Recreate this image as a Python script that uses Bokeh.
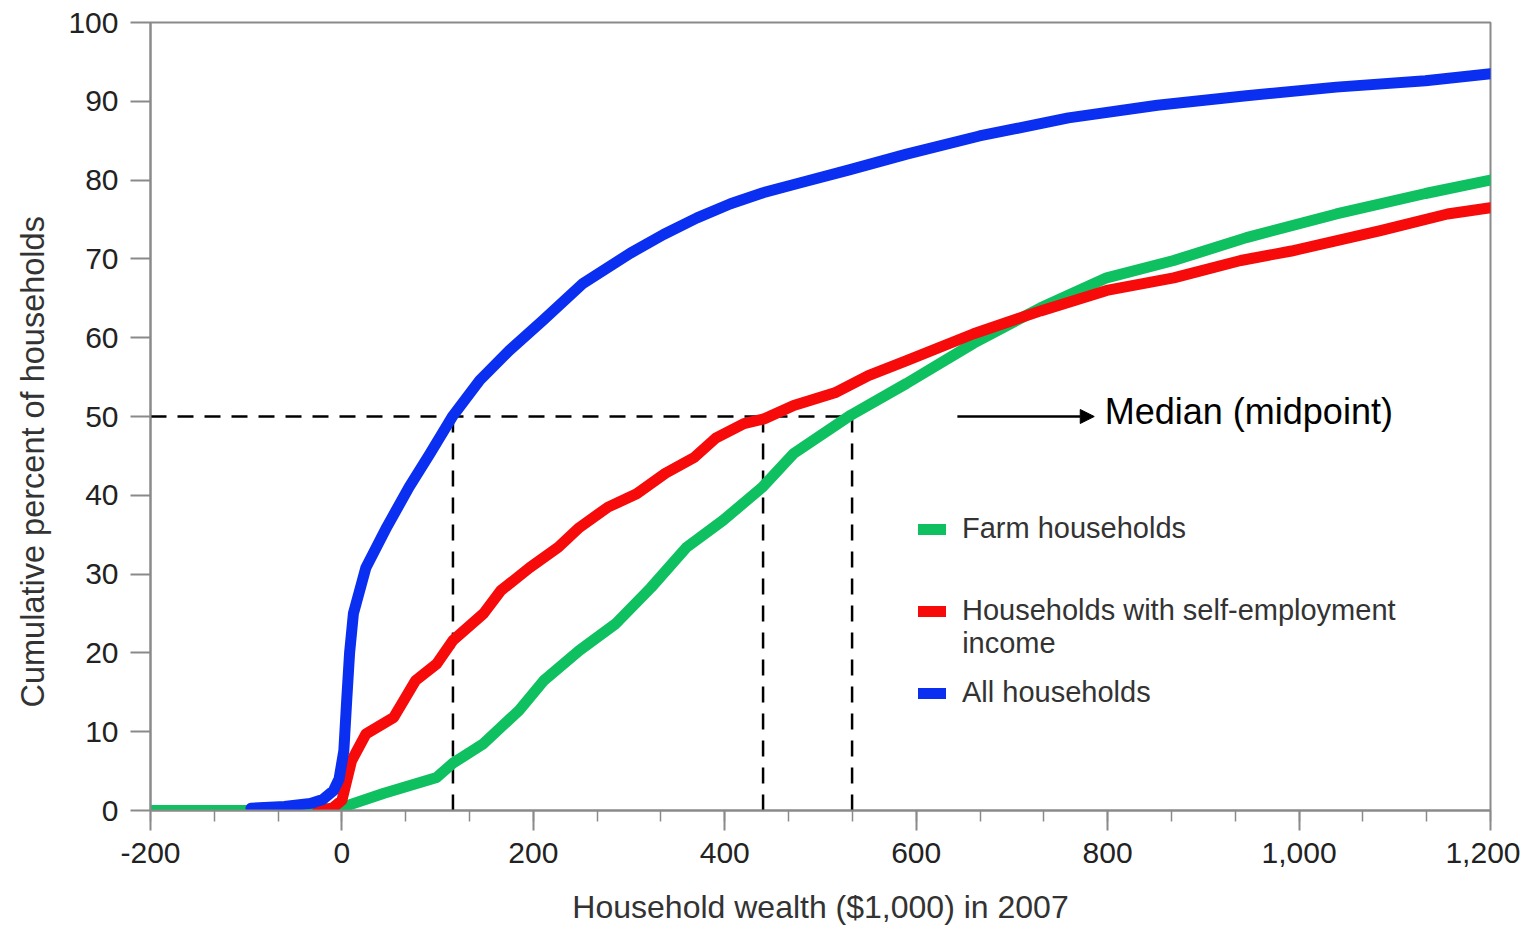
from bokeh.plotting import figure
from bokeh.models import (Range1d, SingleIntervalTicker, NumeralTickFormatter, Legend, LegendItem,
                          Label, Arrow, NormalHead, Title)
from bokeh.embed import file_html
from bokeh.resources import INLINE

# ---- data ----
blue_x = [-95, -60, -33, -20, -9, -3, 2, 5, 8, 12, 25, 47, 70, 92, 116, 144, 175, 210, 252, 301,
          336, 371, 406, 440, 480, 530, 590, 666, 759, 852, 945, 1039, 1132, 1200]
blue_y = [0.3, 0.5, 0.9, 1.4, 2.5, 4, 7.6, 14, 20, 25, 30.8, 36, 41, 45.3, 50.1, 54.6, 58.4, 62.2, 66.9, 70.7,
          73.1, 75.2, 77.0, 78.4, 79.7, 81.3, 83.3, 85.6, 87.9, 89.5, 90.7, 91.8, 92.6, 93.5]

red_x = [-25, -10, 0, 10, 25, 54, 77, 99, 116, 148, 166, 196, 226, 248, 278, 308, 338, 368, 391, 420,
         441, 472, 515, 550, 590, 660, 730, 799, 869, 939, 992, 1085, 1155, 1200]
red_y = [0, 0.3, 1.3, 6.3, 9.7, 11.8, 16.5, 18.6, 21.6, 25, 27.9, 30.8, 33.4, 35.9, 38.5, 40.2, 42.8, 44.8, 47.3, 49.1,
         49.7, 51.4, 53, 55.2, 57.1, 60.5, 63.4, 66, 67.6, 69.8, 71, 73.6, 75.7, 76.5]

green_x = [-200, -100, -30, 0, 44, 99, 116, 148, 185, 211, 248, 286, 323, 360, 398, 439, 472, 532,
           590, 660, 730, 799, 869, 945, 1039, 1132, 1200]
green_y = [0, 0, 0, 0.4, 2.2, 4.2, 6, 8.5, 12.7, 16.5, 20.3, 23.7, 28.3, 33.4, 36.8, 41, 45.3, 50.2,
           54.2, 59.3, 63.8, 67.6, 69.8, 72.7, 75.7, 78.3, 80]

median_level = 50
medians = [116, 440, 533]          # all, self-employment, farm

series_labels = ["Farm households", "Households with self-employment", "All households"]
label_second_line = "income"
x_ticks_interval = 200
y_ticks_interval = 10

# ---- styling ----
FONT = "Liberation Sans"
AXIS_GREY = "#8a8a8a"
GREEN = "#0fc061"
RED = "#f70a0a"
BLUE = "#0b2ff0"

p = figure(width=1520, height=928, output_backend="svg", toolbar_location=None,
           x_range=Range1d(-200, 1200), y_range=Range1d(0, 100),
           min_border_left=150, min_border_right=30, min_border_top=22, min_border_bottom=118)
p.background_fill_color = "white"
p.border_fill_color = "white"
p.outline_line_color = AXIS_GREY
p.outline_line_width = 2
p.xgrid.visible = False
p.ygrid.visible = False

# axes
p.xaxis.ticker = SingleIntervalTicker(interval=x_ticks_interval, num_minor_ticks=3)
p.yaxis.ticker = SingleIntervalTicker(interval=y_ticks_interval, num_minor_ticks=0)
p.xaxis.formatter = NumeralTickFormatter(format="0,0")
for ax in (p.xaxis[0], p.yaxis[0]):
    ax.axis_line_color = AXIS_GREY
    ax.axis_line_width = 2
    ax.major_tick_line_color = AXIS_GREY
    ax.major_tick_line_width = 2
    ax.minor_tick_line_color = AXIS_GREY
    ax.minor_tick_line_width = 1.5
    ax.major_tick_in = 0
    ax.minor_tick_in = 0
    ax.major_label_text_font = FONT
    ax.major_label_text_font_size = "30px"
    ax.major_label_text_color = "#222222"
    ax.axis_label_text_font = FONT
    ax.axis_label_text_font_size = "32px"
    ax.axis_label_text_font_style = "normal"
    ax.axis_label_text_color = "#333333"
p.xaxis.major_tick_out = 20
p.xaxis.minor_tick_out = 11
p.yaxis.major_tick_out = 20
p.yaxis.minor_tick_out = 0
p.xaxis.major_label_standoff = 12
p.yaxis.major_label_standoff = 12
p.xaxis.axis_label = "Household wealth ($1,000) in 2007"
p.xaxis.axis_label_standoff = 23

# y-axis title as a side title so it can sit lower than the frame centre, as in the reference
p.add_layout(Title(text="Cumulative percent of households", align="left", offset=103,
                   vertical_align="middle", standoff=27, text_font=FONT, text_font_size="32.5px",
                   text_font_style="normal", text_color="#333333"), "left")

# dashed median guides
p.segment(x0=[-200], y0=[median_level], x1=[max(medians)], y1=[median_level],
          line_color="black", line_width=2.5, line_dash="16 11")
p.segment(x0=medians, y0=[0] * len(medians), x1=medians, y1=[median_level] * len(medians),
          line_color="black", line_width=2.5, line_dash="16 11")

# curves
rg = p.line(green_x, green_y, line_color=GREEN, line_width=11, line_cap="round", line_join="round")
rr = p.line(red_x, red_y, line_color=RED, line_width=11, line_cap="round", line_join="round")
rb = p.line(blue_x, blue_y, line_color=BLUE, line_width=11, line_cap="round", line_join="round")

# median arrow + text
p.add_layout(Arrow(x_start=643, y_start=median_level, x_end=786, y_end=median_level,
                   line_color="black", line_width=2.5,
                   end=NormalHead(size=14, fill_color="black", line_color="black")))
p.add_layout(Label(x=797, y=median_level + 0.6, text="Median (midpoint)", text_font=FONT,
                   text_font_size="36px", text_color="black", text_baseline="middle"))

# legend: one box per entry so vertical positions match the reference
legend_bottoms = [265, 183, 101]
for lbl, r, yb in zip(series_labels, [rg, rr, rb], legend_bottoms):
    lg = Legend(items=[LegendItem(label=lbl, renderers=[r])], location=(768, yb),
                padding=0, margin=0, border_line_color=None, background_fill_alpha=0,
                glyph_width=28, glyph_height=26, label_height=26, label_standoff=16,
                label_text_font=FONT, label_text_font_size="29px", label_text_color="#333333",
                spacing=0)
    p.add_layout(lg)
p.add_layout(Label(x=648, y=21.3, text=label_second_line, text_font=FONT, text_font_size="29px",
                   text_color="#333333", text_baseline="middle"))

open("out.html", "w").write(file_html(p, INLINE))
